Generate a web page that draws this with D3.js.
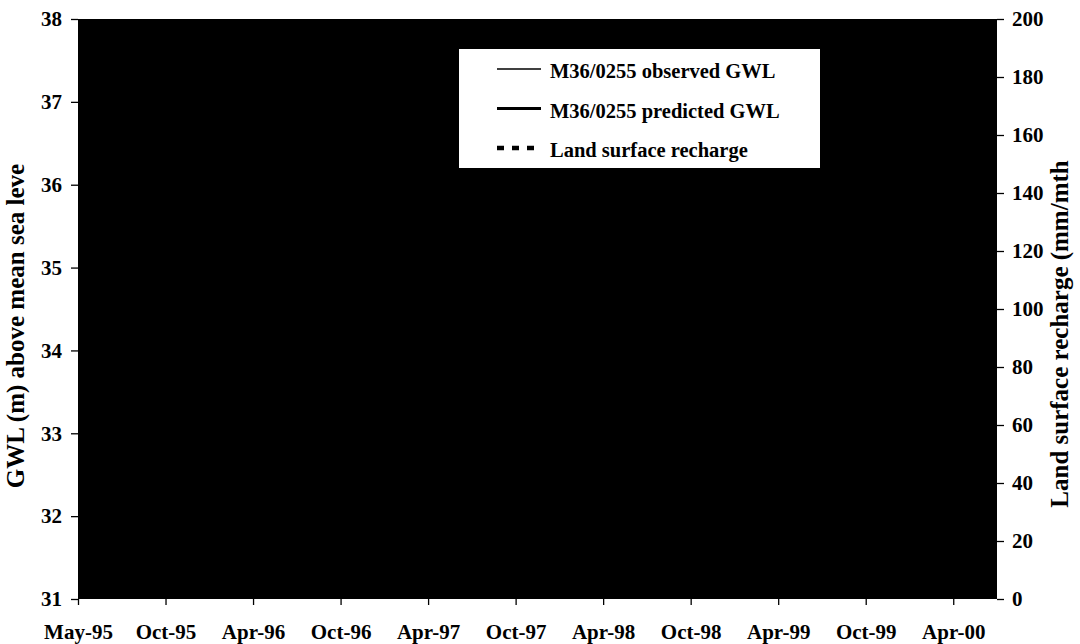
<!DOCTYPE html>
<html>
<head>
  <meta charset="utf-8">
  <title>M36/0255 GWL</title>
  <script src="https://d3js.org/d3.v7.min.js"></script>
  <style>
    body { margin:0; background:#fff; }
    text { font-family: "Liberation Serif", "Times New Roman", serif; font-weight: 700; fill: #000; }
    .tick text { font-size: 21px; }
    .axis path, .axis line { stroke: #000; stroke-width: 1.3; }
    .legend text { font-size: 20.5px; }
    .title { font-size: 25px; }
  </style>
</head>
<body>
<script>
  // tick labels along the bottom (equally spaced categories)
  var months = ["May-95", "Oct-95", "Apr-96", "Oct-96", "Apr-97", "Oct-97",
                "Apr-98", "Oct-98", "Apr-99", "Oct-99", "Apr-00"];

  // series, one value per label position (estimated, lines are hidden by the black fill)
  var observed  = [34.2, 33.6, 34.8, 34.1, 35.0, 33.9, 34.6, 33.8, 34.9, 34.0, 34.7];
  var predicted = [34.1, 33.7, 34.7, 34.2, 34.9, 34.0, 34.5, 33.9, 34.8, 34.1, 34.6];
  var recharge  = [20, 0, 60, 10, 80, 0, 40, 5, 70, 0, 50];

  var gwlTicks = [31, 32, 33, 34, 35, 36, 37, 38];
  var rechargeTicks = [0, 20, 40, 60, 80, 100, 120, 140, 160, 180, 200];

  var legendItems = [
    {label: "M36/0255 observed GWL", width: 1.5, dash: null},
    {label: "M36/0255 predicted GWL", width: 3.2, dash: null},
    {label: "Land surface recharge", width: 4.5, dash: "7,8"}
  ];

  var W = 1080, H = 644;
  var margin = {top: 19, right: 83, bottom: 45, left: 78};
  var width = W - margin.left - margin.right,
      height = H - margin.top - margin.bottom;

  var svg = d3.select("body").append("svg")
      .attr("width", W)
      .attr("height", H);

  svg.append("defs").append("clipPath")
      .attr("id", "clip")
    .append("rect")
      .attr("width", width)
      .attr("height", height);

  var g = svg.append("g")
      .attr("transform", "translate(" + margin.left + "," + margin.top + ")");

  var x = d3.scaleLinear().domain([0, months.length - 0.5]).range([0, width]);
  var yL = d3.scaleLinear().domain([31, 38]).range([height, 0]);
  var yR = d3.scaleLinear().domain([0, 200]).range([height, 0]);

  // plot area
  g.append("rect")
    .attr("width", width)
    .attr("height", height)
    .attr("fill", "#000");

  // series
  var lineL = d3.line().x((d, i) => x(i)).y(d => yL(d));
  var lineR = d3.line().x((d, i) => x(i)).y(d => yR(d));

  var series = g.append("g").attr("clip-path", "url(#clip)");
  series.append("path").datum(recharge)
    .attr("d", lineR).attr("fill", "none").attr("stroke", "#000")
    .attr("stroke-width", 3).attr("stroke-dasharray", "7,8");
  series.append("path").datum(observed)
    .attr("d", lineL).attr("fill", "none").attr("stroke", "#000").attr("stroke-width", 1);
  series.append("path").datum(predicted)
    .attr("d", lineL).attr("fill", "none").attr("stroke", "#000").attr("stroke-width", 2.5);

  // axes
  var xAxis = d3.axisBottom(x)
      .tickValues(d3.range(months.length))
      .tickFormat(i => months[i])
      .tickSize(6)
      .tickSizeOuter(0)
      .tickPadding(19);

  var xg = g.append("g")
      .attr("class", "axis")
      .attr("transform", "translate(0," + height + ")")
      .call(xAxis);
  xg.select(".domain").remove();

  var yAxisL = d3.axisLeft(yL).tickValues(gwlTicks).tickFormat(d3.format("d"))
      .tickSize(7).tickSizeOuter(0).tickPadding(9);
  g.append("g").attr("class", "axis").call(yAxisL).select(".domain").remove();

  var yAxisR = d3.axisRight(yR).tickValues(rechargeTicks).tickFormat(d3.format("d"))
      .tickSize(7).tickSizeOuter(0).tickPadding(8);
  g.append("g").attr("class", "axis")
    .attr("transform", "translate(" + width + ",0)")
    .call(yAxisR).select(".domain").remove();

  // axis titles (cut off at the ends as in the source)
  svg.append("text")
    .attr("class", "title")
    .attr("transform", "translate(24,326) rotate(-90)")
    .attr("text-anchor", "middle")
    .text("GWL (m) above mean sea leve");

  svg.append("text")
    .attr("class", "title")
    .attr("transform", "translate(1068,334) rotate(-90)")
    .attr("text-anchor", "middle")
    .text("Land surface recharge (mm/mth");

  // legend
  var legend = svg.append("g").attr("class", "legend")
      .attr("transform", "translate(459,49)");
  legend.append("rect")
    .attr("width", 361)
    .attr("height", 119)
    .attr("fill", "#fff");

  var items = legend.selectAll("g.item")
    .data(legendItems)
    .enter().append("g")
      .attr("class", "item")
      .attr("transform", (d, i) => "translate(0," + (20 + i * 39.5) + ")");

  items.append("line")
    .attr("x1", 38).attr("x2", 82)
    .attr("y1", 0).attr("y2", 0)
    .attr("stroke", "#000")
    .attr("stroke-width", d => d.width)
    .attr("stroke-dasharray", d => d.dash);

  items.append("text")
    .attr("x", 91)
    .attr("y", 9)
    .text(d => d.label);
</script>
</body>
</html>
